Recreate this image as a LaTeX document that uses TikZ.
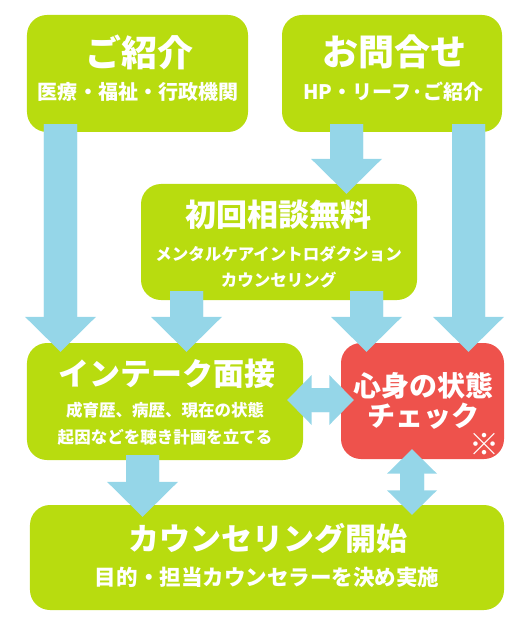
\documentclass[tikz,border=0pt]{standalone}
\usepackage{fontspec}
\newfontfamily\jpfont{Noto Sans CJK JP}
\usetikzlibrary{arrows.meta,positioning}
\definecolor{leaf}{HTML}{B8DC0F}
\definecolor{sky}{HTML}{95D6E8}
\definecolor{alarm}{HTML}{EE524C}
\tikzset{
    stage/.style={fill=leaf, rounded corners=20bp, inner sep=0pt},
    alarmbox/.style={fill=alarm, rounded corners=20bp, inner sep=0pt},
    flow/.style={draw=sky, line width=33bp,
                 preaction={draw=sky, line width=33bp, -, shorten >=30bp},
                 -{Triangle[width=71bp,length=35bp,line width=0pt,fill=sky]}},
    swap/.style={draw=sky, line width=24bp,
                 preaction={draw=sky, line width=24bp, -, shorten <=20bp, shorten >=20bp},
                 {Triangle[width=50bp,length=24.5bp,line width=0pt,fill=sky]}-{Triangle[width=50bp,length=24.5bp,line width=0pt,fill=sky]}},
    heading/.style={text=white, inner sep=0pt, font=\jpfont\bfseries\fontsize{#1}{#1}\selectfont},
    caption/.style={text=white, inner sep=0pt, font=\jpfont\bfseries\fontsize{#1}{#1}\selectfont},
    }

\begin{document}
\begin{tikzpicture}[x=1bp,y=-1bp]
    \useasboundingbox (0,0) rectangle (530,633);

    % boxes
    \node[stage, minimum width=221bp, minimum height=117bp] (shokai) at (137.5,73.5) {};
    \node[stage, minimum width=220bp, minimum height=117bp] (toiawase) at (392,73.5) {};
    \node[stage, minimum width=276bp, minimum height=116bp] (muryou) at (279,242) {};
    \node[stage, minimum width=276bp, minimum height=117bp] (intake) at (165,401.5) {};
    \node[alarmbox, minimum width=163bp, minimum height=116bp] (check) at (422.5,401) {};
    \node[stage, minimum width=474bp, minimum height=105bp] (kaishi) at (267,557.5) {};

    % texts
    \node[heading=36bp] (shokaiT) at (139,52) {ご紹介};
    \node[caption=20bp] (shokaiS) at (138,92) {医療・福祉・行政機関};
    \node[heading=36bp] (toiawaseT) at (394.5,52) {お問合せ};
    \node[caption=20bp] (toiawaseS) at (393.5,92) {HP・リーフ·ご紹介};
    \node[heading=31bp] (muryouT) at (278.6,215) {初回相談無料};
    \node[caption=16.5bp] (muryouS) at (278.6,254) {メンタルケアイントロダクション};
    \node[caption=16.5bp] (muryouU) at (278.6,280) {カウンセリング};
    \node[heading=31bp] (intakeT) at (166.6,374) {インテーク面接};
    \node[caption=16.5bp] (intakeS) at (165,410) {成育歴、病歴、現在の状態};
    \node[caption=16.5bp] (intakeU) at (165,437) {起因などを聴き計画を立てる};
    \node[heading=28bp] (checkT) at (423,386) {心身の状態};
    \node[heading=28bp] (checkU) at (423.5,416) {チェック};
    \node[caption=30bp] (checkM) at (484,444) {※};
    \node[heading=31bp] (kaishiT) at (268,538) {カウンセリング開始};
    \node[caption=21.5bp] (kaishiS) at (267,577) {目的・担当カウンセラーを決め実施};

    % arrows
    \draw[flow] ([xshift=-77bp,yshift=8bp]shokai.south) -- ([xshift=-104.5bp,yshift=-9bp]intake.north);
    \draw[flow] ([xshift=-45.5bp,yshift=8bp]toiawase.south) -- ([xshift=67.5bp,yshift=-10bp]muryou.north);
    \draw[flow] ([xshift=76.5bp,yshift=8bp]toiawase.south) -- ([xshift=46bp,yshift=-9bp]check.north);
    \draw[flow] ([xshift=-92.5bp,yshift=9bp]muryou.south) -- ([xshift=21.5bp,yshift=-9bp]intake.north);
    \draw[flow] ([xshift=87.5bp,yshift=9bp]muryou.south) -- ([xshift=-56bp,yshift=-9bp]check.north);
    \draw[flow] ([xshift=-22.5bp,yshift=5bp]intake.south) -- ([xshift=-124.5bp,yshift=-12bp]kaishi.north);
    \draw[swap] ([xshift=-16bp,yshift=1.5bp]intake.east) -- ([xshift=13bp,yshift=1bp]check.west);
    \draw[swap] ([xshift=-10.5bp,yshift=10bp]check.south) -- ([xshift=145bp,yshift=-10bp]kaishi.north);
\end{tikzpicture}
\end{document}
